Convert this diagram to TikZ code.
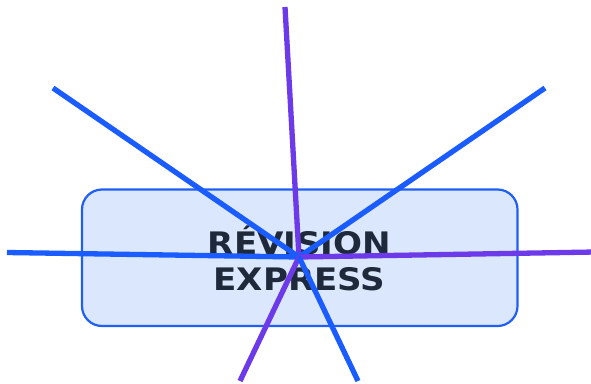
\documentclass[tikz,border=0pt]{standalone}
\usepackage{fontspec}
\newfontfamily\hubfont[FakeStretch=1.1]{DejaVu Sans}
\definecolor{rayblue}{HTML}{1A5CFF}
\definecolor{raypurple}{HTML}{6C3AE8}
\definecolor{boxfill}{HTML}{DBE7FD}
\definecolor{boxline}{HTML}{1F5FF5}
\definecolor{inkdark}{HTML}{1E293B}
\tikzset{
  hubbox/.style={draw=boxline, line width=2.2pt, fill=boxfill, rounded corners=20pt,
    minimum width=435.5pt, minimum height=136.5pt, inner sep=0pt},
  hubtext/.style={text=inkdark, font=\hubfont\bfseries\fontsize{31}{36}\selectfont, inner sep=0pt, anchor=base},
  rayb/.style={draw=rayblue, line width=5.3pt},
  rayp/.style={draw=raypurple, line width=5.3pt}
}
\begin{document}
\begin{tikzpicture}[x=1pt,y=-1pt]
\useasboundingbox (0,0) rectangle (591,383);
\node[hubbox] (hub) at (299.75,257.75) {};
\node[hubtext] (l1) at (299.5,254.5) {RÉVISION};
\node[hubtext] (l2) at (299.5,290.5) {EXPRESS};
\coordinate (c) at (299,257);
\coordinate (nn) at (285,7);
\coordinate (nw) at (53,88);
\coordinate (ne) at (545,88);
\coordinate (w) at (7,252.5);
\coordinate (e) at (595,252);
\coordinate (sw) at (240,381);
\coordinate (se) at (358,381);
\draw[rayp] (c) -- (nn);
\draw[rayb] (c) -- (nw);
\draw[rayb] (c) -- (ne);
\draw[rayb] (c) -- (w);
\draw[rayp] (c) -- (e);
\draw[rayp] (c) -- (sw);
\draw[rayb] (c) -- (se);
\end{tikzpicture}
\end{document}
